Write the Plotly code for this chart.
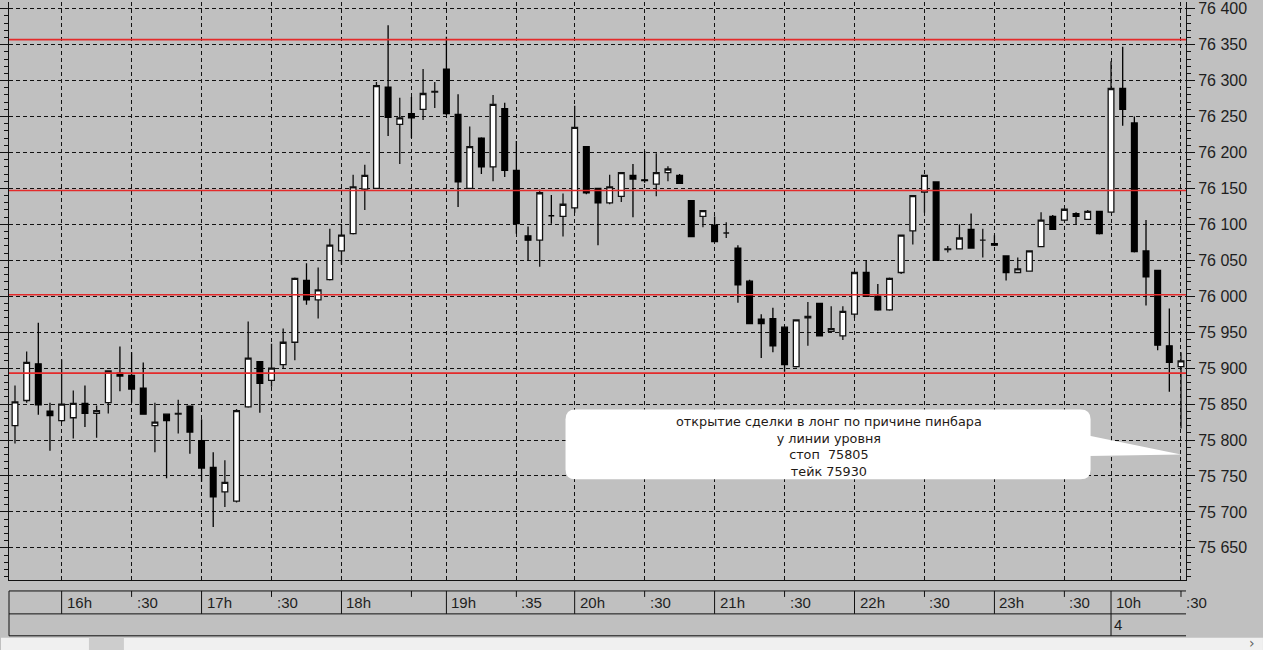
import plotly.graph_objects as go

# ---------------- data (5-minute candles) ----------------
open_ = [75820, 75855, 75906, 75840, 75827, 75831, 75851, 75837, 75852, 75893,
         75890, 75872, 75820, 75836, 75836, 75847, 75799, 75762, 75728, 75715,
         75846, 75909, 75883, 75905, 75936, 76022, 75995, 76023, 76063, 76087,
         76149, 76150, 76291, 76239, 76254, 76260, 76284, 76316, 76253, 76150,
         76220, 76180, 76261, 76175, 76084, 76078, 76112, 76111, 76123, 76208,
         76150, 76130, 76139, 76168, 76162, 76156, 76172, 76168, 76133, 76111,
         76099, 76088, 76067, 76021, 75968, 75969, 75957, 75902, 75970, 75990,
         75951, 75945, 75975, 76033, 76000, 75981, 76033, 76091, 76145, 76159,
         76065, 76066, 76093, 76078, 76073, 76056, 76033, 76035, 76069, 76111,
         76106, 76115, 76107, 76118, 76117, 76289, 76241, 76063, 76036, 75931,
         75902]
high = [75876, 75923, 75963, 75852, 75912, 75869, 75876, 75848, 75897, 75930,
        75922, 75908, 75852, 75837, 75856, 75847, 75829, 75783, 75772, 75843,
        75965, 75910, 75934, 75955, 76026, 76046, 76040, 76094, 76100, 76169,
        76183, 76298, 76377, 76276, 76277, 76316, 76298, 76361, 76281, 76236,
        76221, 76280, 76269, 76216, 76097, 76148, 76141, 76143, 76265, 76209,
        76151, 76169, 76173, 76184, 76202, 76199, 76181, 76170, 76134, 76120,
        76111, 76103, 76071, 76023, 75975, 75984, 75958, 75968, 75992, 75991,
        75986, 75986, 76034, 76050, 76017, 76026, 76086, 76141, 76169, 76160,
        76070, 76100, 76115, 76094, 76085, 76057, 76054, 76064, 76117, 76113,
        76122, 76117, 76120, 76119, 76327, 76347, 76250, 76106, 76037, 75983,
        75922]
low = [75795, 75852, 75835, 75785, 75825, 75802, 75818, 75803, 75837, 75868,
       75852, 75835, 75783, 75747, 75809, 75781, 75742, 75679, 75707, 75713,
       75845, 75838, 75874, 75899, 75911, 75988, 75969, 76022, 76044, 76086,
       76120, 76150, 76223, 76184, 76220, 76245, 76262, 76252, 76124, 76150,
       76170, 76160, 76166, 76087, 76050, 76041, 76101, 76083, 76116, 76142,
       76071, 76128, 76131, 76110, 76158, 76139, 76160, 76157, 76082, 76096,
       76075, 76081, 75991, 75961, 75914, 75922, 75895, 75901, 75931, 75944,
       75950, 75939, 75970, 75999, 75980, 75980, 76031, 76072, 76116, 76049,
       76061, 76065, 76066, 76054, 76070, 76022, 76032, 76034, 76068, 76092,
       76105, 76100, 76106, 76086, 76116, 76237, 76061, 75987, 75925, 75867,
       75816]
close = [75853, 75908, 75849, 75834, 75850, 75851, 75837, 75841, 75896, 75889,
         75871, 75836, 75825, 75827, 75837, 75811, 75761, 75721, 75741, 75841,
         75914, 75879, 75900, 75936, 76025, 75995, 76009, 76071, 76085, 76152,
         76168, 76293, 76249, 76248, 76248, 76282, 76285, 76254, 76159, 76208,
         76180, 76267, 76175, 76101, 76078, 76144, 76112, 76128, 76235, 76144,
         76130, 76152, 76172, 76163, 76161, 76172, 76177, 76157, 76083, 76119,
         76076, 76088, 76016, 75962, 75962, 75931, 75905, 75967, 75972, 75945,
         75955, 75979, 76033, 76000, 75981, 76025, 76085, 76140, 76168, 76050,
         76066, 76081, 76067, 76078, 76071, 76033, 76038, 76063, 76106, 76093,
         76121, 76111, 76118, 76087, 76289, 76260, 76062, 76027, 75932, 75908,
         75910]
bar_index = list(range(len(open_)))

levels = [76357, 76147, 76002, 75893]          # red horizontal levels

tick_idx = [4, 10, 16, 22, 28, 34, 37, 43, 48, 54, 60, 66, 72, 78, 84, 90, 94, 100]
tick_text = ["16h", ":30", "17h", ":30", "18h", "", "19h", ":35", "20h", ":30",
             "21h", ":30", "22h", ":30", "23h", ":30", "10h", ":30"]
day_idx = [94]
day_text = ["4"]

callout_lines = ["открытие сделки в лонг по причине пинбара",
                 "у линии уровня",
                 "стоп  75805",
                 "тейк 75930"]

# ---------------- geometry ----------------
W, H = 1263, 650
ML, MR, MT, MB = 8, 77, 0, 70
PW, PH = W - ML - MR, H - MT - MB
XR = [-0.514, 100.43]
YR = [75605.3, 76409.3]


def py(ypx):  # pixel row -> paper y
    return (PH - (ypx - MT)) / PH


def pxp(xpx):  # pixel col -> paper x
    return (xpx - ML) / PW


def xi(xpx):  # pixel col -> data x
    return XR[0] + (xpx - ML) / PW * (XR[1] - XR[0])


def yv(ypx):  # pixel row -> data y
    return YR[1] - (ypx - MT) / PH * (YR[1] - YR[0])


fig = go.Figure()
fig.add_trace(go.Candlestick(
    x=bar_index, open=open_, high=high, low=low, close=close,
    increasing=dict(fillcolor="#ffffff", line=dict(color="#111111", width=1.3)),
    decreasing=dict(fillcolor="#000000", line=dict(color="#000000", width=1.3)),
    whiskerwidth=0, showlegend=False, hoverinfo="skip"))

shapes = []
for lv in levels:
    shapes.append(dict(type="line", xref="paper", yref="y", x0=0, x1=1, y0=lv, y1=lv,
                       line=dict(color="rgb(228,42,42)", width=1.6), layer="above"))

# callout box
x0, x1 = xi(565), xi(1090.5)
y0, y1 = yv(479), yv(409)
rx, ry = 10 / PW * (XR[1] - XR[0]), 10 / PH * (YR[1] - YR[0])
path = (f"M {x0+rx},{y1} L {x1-rx},{y1} Q {x1},{y1} {x1},{y1-ry} L {x1},{y0+ry} "
        f"Q {x1},{y0} {x1-rx},{y0} L {x0+rx},{y0} Q {x0},{y0} {x0},{y0+ry} "
        f"L {x0},{y1-ry} Q {x0},{y1} {x0+rx},{y1} Z")
shapes.append(dict(type="path", xref="x", yref="y", path=path, fillcolor="white",
                   line=dict(width=0), layer="above"))
tri = f"M {x1-0.2},{yv(435)} L {bar_index[-1]},{yv(454)} L {x1-0.2},{yv(455.5)} Z"
shapes.append(dict(type="path", xref="x", yref="y", path=tri, fillcolor="white",
                   line=dict(width=0), layer="above"))

# time axis box
ln = dict(color="#111111", width=1)
for yy in (591, 614, 636):
    shapes.append(dict(type="line", xref="paper", yref="paper", x0=0, x1=1,
                       y0=py(yy), y1=py(yy), line=ln))
shapes.append(dict(type="line", xref="paper", yref="paper", x0=0, x1=0,
                   y0=py(591), y1=py(636), line=ln))
for i, t in zip(tick_idx, tick_text):
    if t.endswith("h"):
        bottom = 636 if i in day_idx else 614
        shapes.append(dict(type="line", xref="x", yref="paper", x0=i, x1=i,
                           y0=py(591), y1=py(bottom), line=ln))
    else:
        shapes.append(dict(type="line", xref="x", yref="paper", x0=i, x1=i,
                           y0=py(591), y1=py(597), line=ln))

# scrollbar chrome
shapes.append(dict(type="rect", xref="paper", yref="paper", x0=pxp(0), x1=pxp(W),
                   y0=py(638), y1=py(651), fillcolor="#f0f0f0", line=dict(width=0)))
shapes.append(dict(type="rect", xref="paper", yref="paper", x0=pxp(88), x1=pxp(123),
                   y0=py(638), y1=py(651), fillcolor="#cdcdcd", line=dict(width=0)))

annotations = []
lab_font = dict(family="Liberation Sans, Arial", size=15, color="#1e1e1e")
for i, t in zip(tick_idx, tick_text):
    if t:
        annotations.append(dict(x=i, xref="x", y=py(602.5), yref="paper", text=t,
                                xanchor="left", yanchor="middle", xshift=3,
                                showarrow=False, font=lab_font))
for i, t in zip(day_idx, day_text):
    annotations.append(dict(x=i, xref="x", y=py(625), yref="paper", text=t,
                            xanchor="left", yanchor="middle", xshift=1,
                            showarrow=False, font=lab_font))
annotations.append(dict(x=xi(828.5), xref="x", y=yv(446.5), yref="y",
                        text="<br>".join(callout_lines), align="center",
                        xanchor="center", yanchor="middle", showarrow=False,
                        font=dict(family="DejaVu Sans", size=12.8, color="#1f1a16")))
annotations.append(dict(x=pxp(1252), xref="paper", y=py(643), yref="paper", text="›",
                        showarrow=False, xanchor="center", yanchor="middle",
                        font=dict(family="DejaVu Sans", size=14, color="#606060")))

fig.update_layout(
    width=W, height=H, autosize=False,
    margin=dict(l=ML, r=MR, t=MT, b=MB, pad=0),
    paper_bgcolor="#c0c0c0", plot_bgcolor="#c0c0c0",
    separators=". ",
    shapes=shapes, annotations=annotations,
    xaxis=dict(range=XR, tickvals=tick_idx, showticklabels=False, ticks="",
               showgrid=True, gridcolor="#111111", gridwidth=1, griddash="4px,3px",
               showline=True, linecolor="#111111", linewidth=1, zeroline=False,
               rangeslider=dict(visible=False), fixedrange=True),
    yaxis=dict(range=YR, side="right", dtick=50, tick0=0, tickformat=",d",
               showgrid=True, gridcolor="#111111", gridwidth=1, griddash="4px,3px",
               ticks="outside", ticklen=8, tickwidth=1, tickcolor="#111111",
               showline=True, linecolor="#111111", linewidth=1, mirror="ticks",
               zeroline=False, ticklabeloverflow="allow",
               minor=dict(ticks="outside", ticklen=4, dtick=10, tick0=0,
                          tickcolor="#111111", showgrid=False),
               tickfont=dict(family="Liberation Sans, Arial", size=16, color="#1e1e1e")),
)

fig.write_html("out.html", config={"displayModeBar": False},
               post_script="document.body.style.margin='0';document.body.style.overflow='hidden';")
